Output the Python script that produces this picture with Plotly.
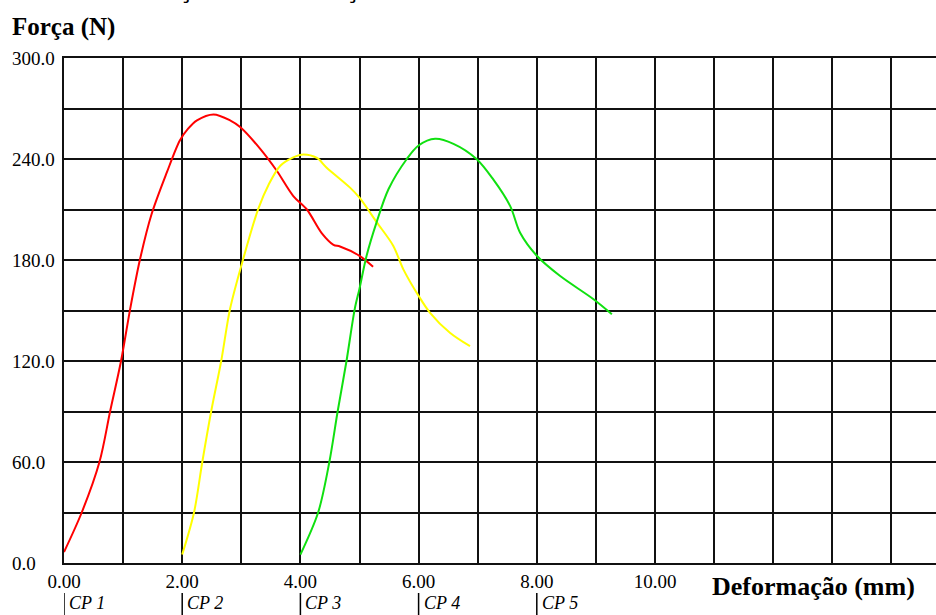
import plotly.graph_objects as go

# ---- data ----
cp1_x = [0.0, 0.30, 0.60, 0.78, 0.965, 1.12, 1.29, 1.48, 1.74, 1.96, 2.10, 2.25, 2.53, 2.81, 2.98, 3.32, 3.60, 3.88, 4.11, 4.36, 4.56, 4.67, 5.0, 5.23]
cp1_y = [6.5, 30, 60, 90, 120, 151, 181, 207, 232, 251, 258, 263, 266.5, 263, 259, 246, 233, 218, 210, 196, 189, 188, 182.5, 176]

cp2_x = [2.0, 2.20, 2.34, 2.49, 2.66, 2.81, 3.0, 3.29, 3.46, 3.66, 3.88, 4.05, 4.28, 4.44, 4.84, 5.0, 5.29, 5.57, 5.74, 6.0, 6.19, 6.53, 6.87]
cp2_y = [5, 30, 60, 90, 120, 151, 176.6, 210.7, 224.6, 236, 241, 242.7, 240.6, 235, 223, 217, 202.5, 188.5, 174.6, 158.7, 148.8, 136.8, 128.8]

cp3_x = [4.0, 4.30, 4.49, 4.63, 4.78, 4.92, 5.0, 5.12, 5.29, 5.49, 5.80, 6.0, 6.28, 6.59, 6.98, 7.26, 7.55, 7.72, 8.0, 8.39, 8.96, 9.27]
cp3_y = [5, 30, 60, 90, 120, 151, 163, 182.5, 202.5, 222, 240, 248, 252, 249, 240, 228, 212, 196, 182.5, 170.6, 156.7, 147.8]

series_x = [cp1_x, cp2_x, cp3_x]
series_y = [cp1_y, cp2_y, cp3_y]
series_names = ["CP 1", "CP 2", "CP 3"]
series_colors = ["#ff0000", "#ffff00", "#10e010"]

x_tickvals = list(range(0, 15))
x_ticktext = ["0.00", "", "2.00", "", "4.00", "", "6.00", "", "8.00", "", "10.00", "", "", "", ""]
y_labels_vals = [0, 60, 120, 180, 240, 300]
y_labels_text = ["0.0", "60.0", "120.0", "180.0", "240.0", "300.0"]

cp_offsets = [0, 2, 4, 6, 8]
cp_labels = ["CP 1", "CP 2", "CP 3", "CP 4", "CP 5"]

title_text = "Curva da Força x Deformação - Todos os CPs"

SERIF = "Liberation Serif, Times New Roman, serif"
SANS = "Liberation Sans, Arial, sans-serif"
W, H = 936, 615
ML, MR, MT, MB = 64, 0, 58, 52
PW, PH = W - ML - MR, H - MT - MB

fig = go.Figure()
for xs, ys, nm, col in zip(series_x, series_y, series_names, series_colors):
    fig.add_trace(go.Scatter(x=xs, y=ys, mode="lines", name=nm,
                             line=dict(color=col, width=2, shape="spline", smoothing=0.9),
                             showlegend=False, hoverinfo="skip"))

def px_x(p):
    return (p - ML) / PW

def px_y(p):
    return (H - MB - p) / PH

annotations = []
for v, t in zip(y_labels_vals, y_labels_text):
    annotations.append(dict(xref="paper", yref="y", x=px_x(10), y=v, text=t,
                            showarrow=False, xanchor="left", yanchor="middle",
                            font=dict(family=SERIF, size=19, color="#000")))
annotations.append(dict(xref="paper", yref="paper", x=px_x(10), y=px_y(27),
                        text="<b>Força (N)</b>", showarrow=False, xanchor="left", yanchor="middle",
                        font=dict(family=SERIF, size=25, color="#000")))
annotations.append(dict(xref="paper", yref="paper", x=px_x(710), y=px_y(586),
                        text="<b>Deformação (mm)</b>", showarrow=False, xanchor="left", yanchor="middle",
                        font=dict(family=SERIF, size=26, color="#000")))
annotations.append(dict(xref="paper", yref="paper", x=px_x(13), y=px_y(5),
                        text=title_text, showarrow=False,
                        xanchor="left", yanchor="bottom",
                        font=dict(family=SANS, size=28, color="#000")))
shapes = []
for off, lab in zip(cp_offsets, cp_labels):
    annotations.append(dict(xref="x", yref="paper", x=off, y=px_y(603), xshift=3,
                            text="<i>" + lab + "</i>", showarrow=False, xanchor="left", yanchor="middle",
                            font=dict(family=SERIF, size=18, color="#000")))
    shapes.append(dict(type="line", xref="x", yref="paper", x0=off, x1=off,
                       y0=px_y(593), y1=px_y(615), line=dict(color="#000", width=1.5)))

fig.update_layout(
    width=W, height=H,
    margin=dict(l=ML, r=MR, t=MT, b=MB, pad=0),
    paper_bgcolor="white", plot_bgcolor="white",
    showlegend=False,
    annotations=annotations, shapes=shapes,
    xaxis=dict(range=[0, PW / 59.1], tickmode="array", tickvals=x_tickvals, ticktext=x_ticktext,
               showgrid=True, gridcolor="#111", gridwidth=1.8,
               showline=True, linecolor="#111", linewidth=2, mirror=True,
               zeroline=False, ticks="", ticklabelstandoff=0,
               tickfont=dict(family=SERIF, size=19, color="#000")),
    yaxis=dict(range=[0, 300], tickmode="linear", tick0=0, dtick=30,
               showgrid=True, gridcolor="#111", gridwidth=1.8,
               showline=True, linecolor="#111", linewidth=2,
               zeroline=False, showticklabels=False, ticks=""),
)

fig.write_html("out.html", config={"displayModeBar": False},
               post_script="document.body.style.margin='0px';document.body.style.overflow='hidden';")
